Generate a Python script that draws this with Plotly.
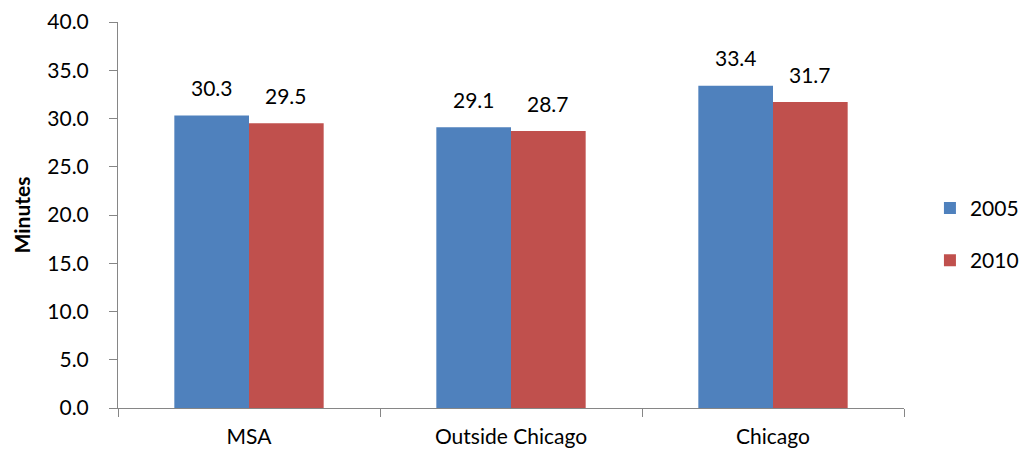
import plotly.graph_objects as go

categories = ["MSA", "Outside Chicago", "Chicago"]
years = ["2005", "2010"]
minutes_2005 = [30.3, 29.1, 33.4]
minutes_2010 = [29.5, 28.7, 31.7]
y_ticks = [0, 5, 10, 15, 20, 25, 30, 35, 40]

colors = {"2005": "#4F81BD", "2010": "#C0504D"}
series = {"2005": minutes_2005, "2010": minutes_2010}
FONT = "Lato, 'Open Sans', sans-serif"
FS = 21

fig = go.Figure()
for yr in years:
    fig.add_trace(go.Bar(
        x=categories, y=series[yr], name=yr,
        marker=dict(color=colors[yr], line=dict(width=0)),
        legendgroup=yr,
    ))

# value labels above each bar
bar_offset = 37
for yr, shift in zip(years, (-bar_offset, bar_offset)):
    for cat, val in zip(categories, series[yr]):
        fig.add_annotation(
            x=cat, y=val, text=f"{val:.1f}", showarrow=False,
            xshift=shift, yshift=28, yanchor="middle",
            font=dict(family=FONT, size=FS, color="#000000"),
        )

fig.update_layout(
    width=1024, height=454,
    margin=dict(l=118, r=120, t=22, b=46, autoexpand=False),
    paper_bgcolor="white", plot_bgcolor="white",
    barmode="group", bargap=0.43, bargroupgap=0,
    font=dict(family=FONT, size=FS, color="#000000"),
    legend=dict(
        x=1.033, xanchor="left", y=0.45, yanchor="middle",
        font=dict(family=FONT, size=FS), tracegroupgap=22,
        itemwidth=30,
    ),
    xaxis=dict(
        type="category", showline=True, linecolor="#868686", linewidth=1,
        ticks="outside", tickson="boundaries", ticklen=8, tickcolor="#868686",
        showgrid=False, tickfont=dict(family=FONT, size=FS),
        ticklabelstandoff=10,
    ),
    yaxis=dict(
        range=[0, 40], tickvals=y_ticks, tickformat=".1f",
        showline=True, linecolor="#868686", linewidth=1,
        ticks="outside", ticklen=8, tickcolor="#868686",
        showgrid=False, zeroline=False, ticklabelstandoff=16,
        title=dict(text="<b>Minutes</b>", standoff=10,
                   font=dict(family=FONT, size=FS)),
        tickfont=dict(family=FONT, size=FS),
    ),
)

fig.write_html("out.html")
